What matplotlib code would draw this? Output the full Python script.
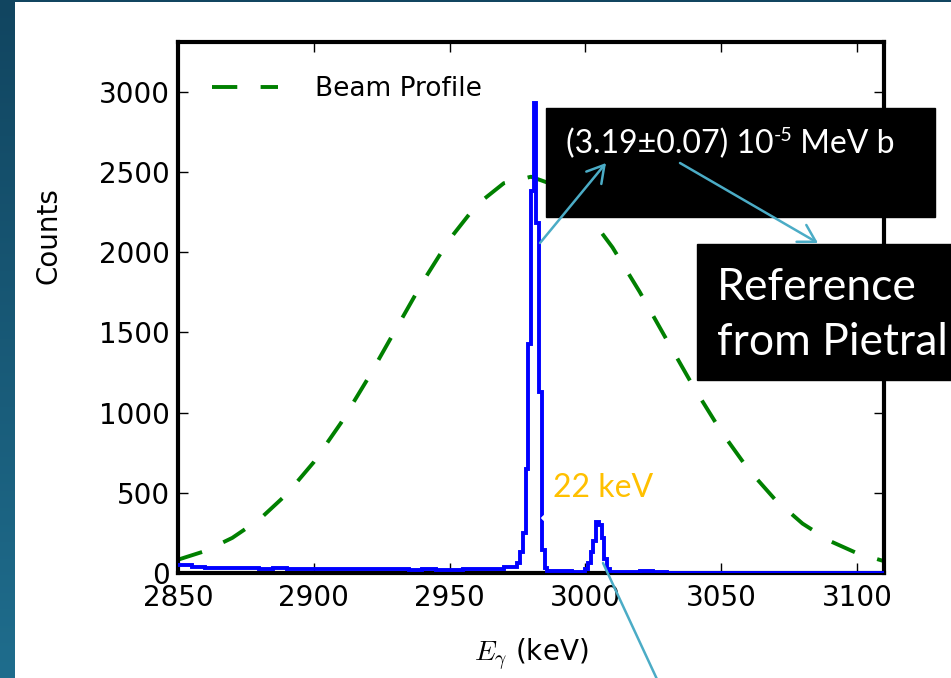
import numpy as np
import matplotlib
matplotlib.use("Agg")
import matplotlib.pyplot as plt
from matplotlib.patches import Rectangle, FancyArrowPatch
from matplotlib.text import Annotation
from matplotlib.colors import LinearSegmentedColormap

plt.rcParams['font.family'] = ['DejaVu Sans']
plt.rcParams['mathtext.fontset'] = 'cm'

# spectrum: histogram bin edges (keV) and counts
bg_lo_edges = [2850, 2855, 2860, 2865, 2870, 2875, 2880, 2885, 2890, 2895, 2900,
               2905, 2910, 2915, 2920, 2925, 2930, 2935, 2940, 2945, 2950,
               2955, 2960, 2965, 2970]
bg_lo_counts = [48, 38, 34, 32, 30, 31, 28, 29, 27, 26, 27, 25, 24, 25, 23, 22,
                24, 21, 22, 20, 21, 22, 24, 28, 40]
peak1_edges = [2975, 2976, 2977, 2978, 2979, 2980, 2981, 2982, 2983, 2984, 2985]
peak1_counts = [60, 130, 250, 650, 1430, 2380, 2930, 2180, 1130, 145, 30]
gap_edges = [2986, 2990, 2995]
gap_counts = [12, 10, 8]
peak2_edges = [3000, 3001, 3002, 3003, 3004, 3005, 3006, 3007, 3008]
peak2_counts = [25, 60, 130, 200, 320, 300, 220, 90, 25]
bg_hi_edges = [3009, 3015, 3020, 3025, 3030, 3040, 3050, 3060, 3070, 3080,
               3090, 3100]
bg_hi_counts = [6, 5, 10, 4, 3, 3, 2, 2, 2, 1, 1, 1]
last_edge = 3110

# beam profile
beam_e = [2850, 2860, 2870, 2880, 2890, 2900, 2910, 2920, 2930, 2940, 2950,
          2960, 2970, 2980, 2990, 3000, 3010, 3020, 3030, 3040, 3050, 3060,
          3070, 3080, 3090, 3100, 3110]
beam_counts = [83, 137, 219, 334, 491, 691, 935, 1214, 1513, 1811, 2080, 2295,
               2430, 2470, 2410, 2257, 2030, 1753, 1453, 1156, 883, 647, 456,
               308, 200, 124, 74]

xticks = [2850, 2900, 2950, 3000, 3050, 3100]
yticks = [0, 500, 1000, 1500, 2000, 2500, 3000]

edges = np.array(bg_lo_edges + peak1_edges + gap_edges + peak2_edges
                 + bg_hi_edges + [last_edge], dtype=float)
counts = np.array(bg_lo_counts + peak1_counts + gap_counts + peak2_counts
                  + bg_hi_counts, dtype=float)

W, H = 951, 678
fig = plt.figure(figsize=(W / 100, H / 100), dpi=100)


def px(x, y):
    return (x / W, 1 - y / H)


# slide background
bg = fig.add_axes([0, 0, 1, 1], zorder=-5)
cmap = LinearSegmentedColormap.from_list('slide', ['#114560', '#1f6d8d'])
bg.imshow(np.linspace(0, 1, 256).reshape(-1, 1), aspect='auto', cmap=cmap,
          extent=[0, 1, 0, 1])
bg.add_patch(Rectangle((15 / W, 0), 1, 1 - 2 / H, color='white', lw=0))
bg.set_xlim(0, 1)
bg.set_ylim(0, 1)
bg.axis('off')

ax = fig.add_axes([178 / W, 105 / H, 706 / W, 531 / H])
ax.stairs(counts, edges, baseline=None, color='b', lw=2.8, zorder=3)
ax.plot(beam_e, beam_counts, color='#008000', lw=2.8, dashes=(6.5, 6),
        label='Beam Profile', zorder=2)

ax.set_xlim(2850, 3110)
ax.set_ylim(0, 3310)
ax.set_xticks(xticks)
ax.set_yticks(yticks)
for s in ax.spines.values():
    s.set_linewidth(3)
ax.tick_params(direction='in', top=True, right=True, length=7, width=1,
               labelsize=20)
ax.tick_params(axis='x', pad=8)
ax.tick_params(axis='y', pad=6)
ax.set_ylabel('Counts', fontsize=20)
ax.yaxis.set_label_coords(-0.163, 0.635)
ax.set_xlabel(r'$E_\gamma$ (keV)', fontsize=20)
ax.xaxis.set_label_coords(0.5, -0.12)

leg = ax.legend(loc='upper left', frameon=False, fontsize=19, handlelength=2.5,
                handletextpad=1.4, borderaxespad=0.9)

# slide overlays
slide_font = ['Lato', 'DejaVu Sans']
teal = '#4BACC6'

fig.add_artist(Rectangle(px(546, 217), 389 / W, 109 / H, color='black',
                         transform=fig.transFigure, zorder=10))
fig.add_artist(Rectangle(px(697, 380), 260 / W, 136 / H, color='black',
                         transform=fig.transFigure, zorder=10))

t1 = fig.text(*px(566, 153), '(3.19±0.07) 10', color='white', fontsize=23,
              family=slide_font, va='baseline', zorder=11)
t2 = Annotation('-5', xy=(1, 0.5), xycoords=t1, color='white', fontsize=14,
                family=slide_font, va='bottom', ha='left', zorder=11)
fig.add_artist(t2)
t3 = Annotation(' MeV b', xy=(1, 0), xycoords=(t2, t1), color='white',
                fontsize=23, family=slide_font, va='bottom', ha='left',
                zorder=11)
fig.add_artist(t3)

fig.text(*px(717, 300), 'Reference', color='white', fontsize=32,
         family=slide_font, va='baseline', zorder=11)
fig.text(*px(717, 355), 'from Pietral', color='white', fontsize=32,
         family=slide_font, va='baseline', zorder=11)

fig.text(*px(553, 497), '22 keV', color='#FFC000', fontsize=23,
         family=slide_font, va='baseline', zorder=11)

# white arrow between the peaks
fig.add_artist(FancyArrowPatch(px(580, 518), px(538, 518),
                               transform=fig.transFigure,
                               arrowstyle='-|>,head_length=0.5,head_width=0.5',
                               mutation_scale=20, color='white', lw=2,
                               zorder=9))

# teal callout arrows
fig.add_artist(FancyArrowPatch(px(540, 243), px(606, 163),
                               transform=fig.transFigure,
                               arrowstyle='->,head_length=0.6,head_width=0.35',
                               mutation_scale=20, color=teal, lw=1.8,
                               shrinkA=0, shrinkB=0, zorder=12))
fig.add_artist(FancyArrowPatch(px(680, 163), px(818, 243),
                               transform=fig.transFigure,
                               arrowstyle='->,head_length=0.6,head_width=0.35',
                               mutation_scale=20, color=teal, lw=1.8,
                               shrinkA=0, shrinkB=0, zorder=12))
fig.add_artist(FancyArrowPatch(px(603, 563), px(662, 690),
                               transform=fig.transFigure, arrowstyle='-',
                               color=teal, lw=1.8, shrinkA=0, shrinkB=0,
                               zorder=12))

fig.savefig('out.png', dpi=100)
